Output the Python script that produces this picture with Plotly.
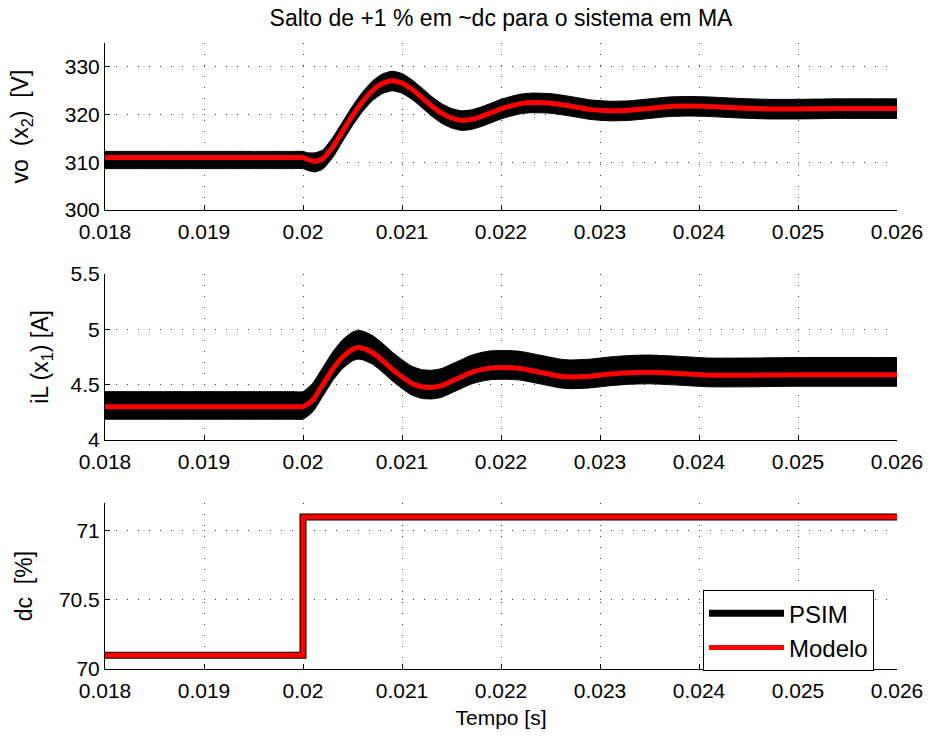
import plotly.graph_objects as go

# ---------------- data ----------------
title_text = "Salto de +1 % em ~dc para o sistema em MA"
x_ticks = [0.018, 0.019, 0.020, 0.021, 0.022, 0.023, 0.024, 0.025, 0.026]
x_ticklabels = ["0.018", "0.019", "0.02", "0.021", "0.022", "0.023", "0.024", "0.025", "0.026"]

# vo (x2) [V]
t_vo = [0.0180, 0.0195, 0.0199, 0.0200, 0.02005, 0.02012, 0.0202, 0.0203, 0.0204, 0.0205, 0.0206,
        0.0207, 0.0208, 0.0209, 0.0210, 0.0211, 0.0212, 0.0213, 0.0214, 0.0215, 0.0216,
        0.0217, 0.0218, 0.0219, 0.0220, 0.0221, 0.0222, 0.0223, 0.0225, 0.0227, 0.0229,
        0.0231, 0.0233, 0.0235, 0.0237, 0.0239, 0.0241, 0.0244, 0.0247, 0.0250, 0.0254,
        0.0260]
vo_model = [311.0, 311.0, 311.0, 311.0, 310.6, 310.2, 310.8, 313.2, 316.5, 319.8, 322.7,
            325.0, 326.5, 327.1, 326.6, 325.3, 323.6, 321.8, 320.3, 319.3, 318.8,
            319.0, 319.6, 320.4, 321.2, 321.8, 322.3, 322.5, 322.4, 321.8, 321.1,
            320.8, 320.9, 321.3, 321.7, 321.8, 321.7, 321.4, 321.2, 321.2, 321.3,
            321.3]
vo_psim_hi = [312.3, 312.3, 312.3, 312.3, 312.0, 312.0, 312.6, 315.2, 318.5, 321.8, 324.7,
              327.0, 328.5, 329.1, 328.6, 327.3, 325.6, 323.8, 322.3, 321.3, 320.8,
              321.0, 321.6, 322.4, 323.2, 323.8, 324.3, 324.5, 324.4, 323.8, 323.1,
              322.8, 322.9, 323.3, 323.7, 323.8, 323.7, 323.4, 323.2, 323.2, 323.3,
              323.3]
vo_psim_lo = [308.7, 308.7, 308.7, 308.7, 308.3, 308.0, 308.6, 311.0, 314.4, 317.7, 320.6,
              322.9, 324.4, 325.0, 324.5, 323.2, 321.5, 319.7, 318.2, 317.2, 316.7,
              316.9, 317.5, 318.3, 319.1, 319.7, 320.2, 320.4, 320.3, 319.7, 319.0,
              318.7, 318.8, 319.2, 319.6, 319.7, 319.6, 319.3, 319.1, 319.1, 319.2,
              319.2]

# iL (x1) [A]
t_il = [0.0180, 0.0195, 0.0199, 0.0200, 0.0201, 0.0202, 0.0203, 0.0204, 0.0205, 0.02055, 0.0206,
        0.0207, 0.0208, 0.0209, 0.0210, 0.0211, 0.0212, 0.0213, 0.0214, 0.0215, 0.0216,
        0.0217, 0.0218, 0.0219, 0.02205, 0.0222, 0.0224, 0.0226, 0.0227, 0.0229, 0.0231,
        0.0233, 0.0235, 0.0238, 0.0241, 0.0245, 0.0250, 0.0260]
il_model = [4.30, 4.30, 4.30, 4.30, 4.36, 4.50, 4.64, 4.75, 4.82, 4.835, 4.83,
            4.79, 4.72, 4.64, 4.57, 4.51, 4.48, 4.475, 4.49, 4.53, 4.57,
            4.61, 4.635, 4.65, 4.653, 4.645, 4.61, 4.575, 4.568, 4.575, 4.595,
            4.608, 4.612, 4.60, 4.585, 4.585, 4.59, 4.59]
il_psim_hi = [4.436, 4.436, 4.436, 4.436, 4.515, 4.655, 4.795, 4.905, 4.975, 4.99, 4.985,
              4.945, 4.875, 4.795, 4.725, 4.665, 4.635, 4.63, 4.645, 4.685, 4.725,
              4.765, 4.79, 4.805, 4.808, 4.80, 4.765, 4.73, 4.723, 4.73, 4.75,
              4.763, 4.767, 4.755, 4.74, 4.74, 4.745, 4.745]
il_psim_lo = [4.187, 4.187, 4.187, 4.187, 4.255, 4.395, 4.535, 4.645, 4.715, 4.73, 4.725,
              4.685, 4.615, 4.535, 4.465, 4.405, 4.375, 4.37, 4.385, 4.425, 4.465,
              4.505, 4.53, 4.545, 4.548, 4.54, 4.505, 4.47, 4.463, 4.47, 4.49,
              4.503, 4.507, 4.495, 4.48, 4.48, 4.485, 4.485]

# dc [%]
t_dc = [0.0180, 0.0200, 0.0260]
dc_psim = [70.1, 71.1, 71.1]
dc_model = [70.1, 71.1, 71.1]

# ---------------- figure ----------------
FONT = "Liberation Sans, Arial, Helvetica, sans-serif"
SMOOTH = 0.5
fig = go.Figure()

def band(t, lo, hi, xa, ya):
    fig.add_trace(go.Scatter(x=t, y=lo, mode="lines",
                             line=dict(color="black", width=1, shape="spline", smoothing=SMOOTH),
                             xaxis=xa, yaxis=ya, showlegend=False, hoverinfo="skip"))
    fig.add_trace(go.Scatter(x=t, y=hi, mode="lines",
                             line=dict(color="black", width=1, shape="spline", smoothing=SMOOTH),
                             fill="tonexty", fillcolor="black",
                             xaxis=xa, yaxis=ya, showlegend=False, hoverinfo="skip"))

band(t_vo, vo_psim_lo, vo_psim_hi, "x", "y")
fig.add_trace(go.Scatter(x=t_vo, y=vo_model, mode="lines",
                         line=dict(color="red", width=5, shape="spline", smoothing=SMOOTH),
                         xaxis="x", yaxis="y", showlegend=False))
band(t_il, il_psim_lo, il_psim_hi, "x2", "y2")
fig.add_trace(go.Scatter(x=t_il, y=il_model, mode="lines",
                         line=dict(color="red", width=5, shape="spline", smoothing=SMOOTH),
                         xaxis="x2", yaxis="y2", showlegend=False))

fig.add_trace(go.Scatter(x=t_dc, y=dc_psim, mode="lines", name="PSIM",
                         line=dict(color="black", width=7, shape="hv"), xaxis="x3", yaxis="y3"))
fig.add_trace(go.Scatter(x=t_dc, y=dc_model, mode="lines", name="Modelo",
                         line=dict(color="red", width=5, shape="hv"), xaxis="x3", yaxis="y3"))

common_x = dict(range=[0.018, 0.026], tickvals=x_ticks, ticktext=x_ticklabels,
                showline=True, linecolor="black", linewidth=1, mirror=False,
                ticks="inside", ticklen=5, tickcolor="black", ticklabelstandoff=3,
                showgrid=True, gridcolor="rgba(0,0,0,0.75)", gridwidth=1, griddash="1px,10px",
                zeroline=False, automargin=False,
                tickfont=dict(size=21, color="black", family=FONT))
common_y = dict(showline=True, linecolor="black", linewidth=1, mirror=False,
                ticks="inside", ticklen=5, tickcolor="black",
                showgrid=True, gridcolor="rgba(0,0,0,0.75)", gridwidth=1, griddash="1px,10px",
                zeroline=False, automargin=False,
                tickfont=dict(size=21, color="black", family=FONT))

d1 = [0.733, 1.0]
d2 = [0.366, 0.631]
d3 = [0.0, 0.265]
YT = dict(size=23, family=FONT, color="black")

fig.update_layout(
    width=931, height=737,
    margin=dict(l=105, r=34, t=43, b=68),
    paper_bgcolor="white", plot_bgcolor="white",
    font=dict(family=FONT, color="black", size=20),
    title=dict(text=title_text, x=0.5, xref="paper", xanchor="center",
               y=1 - 18 / 737, yref="container", yanchor="middle",
               font=dict(size=23, family=FONT, color="black")),
    xaxis=dict(domain=[0, 1], anchor="y", **common_x),
    yaxis=dict(domain=d1, anchor="x", range=[300, 335], tickvals=[300, 310, 320, 330],
               title=dict(text="vo&nbsp;&nbsp;(x<sub>2</sub>)&nbsp;&nbsp;[V]", standoff=29, font=YT),
               **common_y),
    xaxis2=dict(domain=[0, 1], anchor="y2", **common_x),
    yaxis2=dict(domain=d2, anchor="x2", range=[4, 5.5], tickvals=[4, 4.5, 5, 5.5],
                ticktext=["4", "4.5", "5", "5.5"],
                title=dict(text="iL (x<sub>1</sub>) [A]", standoff=15, font=YT), **common_y),
    xaxis3=dict(domain=[0, 1], anchor="y3",
                title=dict(text="Tempo [s]", standoff=9, font=dict(size=21, family=FONT, color="black")),
                **common_x),
    yaxis3=dict(domain=d3, anchor="x3", range=[70, 71.2], tickvals=[70, 70.5, 71],
                ticktext=["70", "70.5", "71"],
                title=dict(text="dc&nbsp;&nbsp;[%]", standoff=19, font=YT), **common_y),
    legend=dict(x=0.755, y=0.126, xanchor="left", yanchor="top",
                bgcolor="white", bordercolor="black", borderwidth=1,
                font=dict(size=24, family=FONT, color="black"),
                itemwidth=75, tracegroupgap=0, traceorder="normal"),
    showlegend=True,
)

fig.write_html("out.html")
